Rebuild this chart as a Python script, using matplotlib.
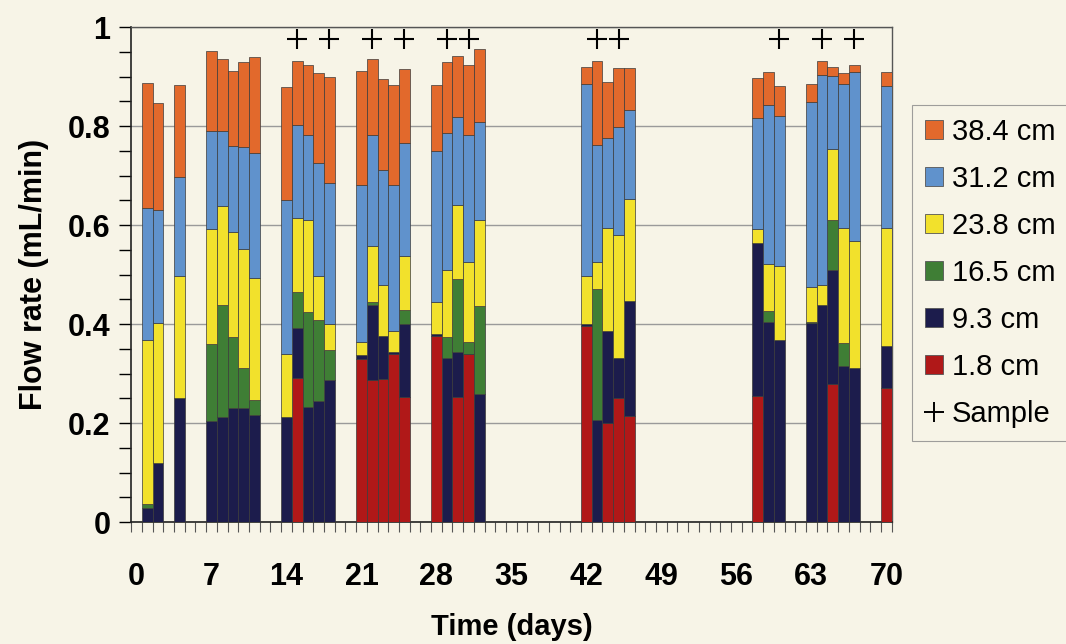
import matplotlib.pyplot as plt
import numpy as np
from matplotlib.patches import Patch
from matplotlib.lines import Line2D
from matplotlib.ticker import MultipleLocator, FuncFormatter

# sampling days and flow per port (mL/min), bottom port first
days = [1, 2, 4, 7, 8, 9, 10, 11, 14, 15, 16, 17, 18, 21, 22, 23, 24, 25,
        28, 29, 30, 31, 32, 42, 43, 44, 45, 46, 58, 59, 60, 63, 64, 65, 66, 67, 70]

flow_1_8 = [0, 0, 0, 0, 0, 0, 0, 0, 0, 0.291, 0, 0, 0, 0.330, 0.286, 0.289, 0.339, 0.253,
            0.376, 0, 0.253, 0.339, 0, 0.397, 0, 0.201, 0.250, 0.214, 0.255, 0, 0, 0, 0, 0.278, 0, 0, 0.270]
flow_9_3 = [0.029, 0.120, 0.250, 0.204, 0.213, 0.230, 0.230, 0.216, 0.213, 0.101, 0.233, 0.245, 0.287,
            0.008, 0.152, 0.086, 0.004, 0.147, 0.004, 0.331, 0.090, 0, 0.258, 0.004, 0.206, 0.184,
            0.082, 0.232, 0.308, 0.405, 0.368, 0.402, 0.438, 0.232, 0.316, 0.312, 0.086]
flow_16_5 = [0.008, 0, 0, 0.156, 0.225, 0.143, 0.081, 0.031, 0, 0.073, 0.191, 0.164, 0.061,
             0, 0.007, 0, 0, 0.029, 0, 0.042, 0.147, 0.025, 0.179, 0, 0.265, 0, 0, 0,
             0, 0.021, 0, 0.003, 0, 0.101, 0.045, 0, 0]
flow_23_8 = [0.330, 0.283, 0.247, 0.233, 0.201, 0.213, 0.240, 0.246, 0.126, 0.150, 0.186, 0.088, 0.052,
             0.025, 0.112, 0.103, 0.043, 0.108, 0.064, 0.136, 0.150, 0.162, 0.174, 0.096, 0.055, 0.210,
             0.247, 0.206, 0.028, 0.096, 0.150, 0.069, 0.040, 0.142, 0.234, 0.256, 0.239]
flow_31_2 = [0.267, 0.228, 0.200, 0.196, 0.150, 0.174, 0.206, 0.252, 0.312, 0.187, 0.172, 0.228, 0.284,
             0.318, 0.225, 0.233, 0.295, 0.229, 0.306, 0.277, 0.179, 0.256, 0.198, 0.388, 0.235, 0.180,
             0.220, 0.180, 0.225, 0.321, 0.302, 0.374, 0.426, 0.148, 0.289, 0.341, 0.285]
flow_38_4 = [0.253, 0.216, 0.186, 0.163, 0.147, 0.152, 0.172, 0.195, 0.228, 0.130, 0.142, 0.182, 0.215,
             0.231, 0.154, 0.184, 0.202, 0.150, 0.133, 0.143, 0.122, 0.142, 0.147, 0.035, 0.171, 0.114,
             0.118, 0.085, 0.081, 0.066, 0.060, 0.036, 0.028, 0.019, 0.023, 0.015, 0.029]

sample_days = [15, 18, 22, 25, 29, 31, 43, 45, 60, 64, 67]

labels = ['1.8 cm', '9.3 cm', '16.5 cm', '23.8 cm', '31.2 cm', '38.4 cm']
colors = ['#b01818', '#1c1c4c', '#3f7e35', '#f2e12c', '#6092cc', '#e2692c']
series = [flow_1_8, flow_9_3, flow_16_5, flow_23_8, flow_31_2, flow_38_4]

paper = '#f7f4e7'
sans = ['Liberation Sans', 'DejaVu Sans']
fig = plt.figure(figsize=(10.66, 6.44), dpi=100, facecolor=paper)
ax = fig.add_axes([0.123, 0.1894, 0.7135, 0.7686])
ax.set_facecolor(paper)

bottom = np.zeros(len(days))
for vals, col in zip(series, colors):
    ax.bar(days, vals, width=1.0, bottom=bottom, color=col,
           edgecolor='#3a3a3a', linewidth=0.5, zorder=3)
    bottom += np.array(vals)

ax.plot(sample_days, [0.975] * len(sample_days), linestyle='none', marker='+',
        markersize=15, markeredgewidth=1.5, color='black', zorder=4)

ax.set_xlim(-0.5, 70.5)
ax.set_ylim(0, 1)

ax.yaxis.set_major_locator(MultipleLocator(0.2))
ax.yaxis.set_minor_locator(MultipleLocator(0.05))
ax.yaxis.set_major_formatter(FuncFormatter(lambda v, p: '{:g}'.format(round(v, 2))))
ax.set_xticks(range(0, 71, 7))
ax.set_xticks(np.arange(-0.5, 70.6, 1), minor=True)

ax.tick_params(axis='y', which='both', direction='out', length=9, width=1, pad=6,
               labelsize=22)
ax.tick_params(axis='x', which='major', length=0, pad=29, labelsize=22)
ax.tick_params(axis='x', which='minor', direction='out', length=7, width=0.8, color='#555555')
for t in ax.get_yticklabels() + ax.get_xticklabels():
    t.set_fontfamily(sans)
    t.set_fontweight('bold')

ax.grid(axis='y', which='major', color='#9a9a9a', linewidth=1.0, zorder=0)
for side in ['top', 'right']:
    ax.spines[side].set_color('#555555')
    ax.spines[side].set_linewidth(1.0)
for side in ['left', 'bottom']:
    ax.spines[side].set_color('#222222')
    ax.spines[side].set_linewidth(1.2)

ax.set_ylabel('Flow rate (mL/min)', fontsize=22, fontweight='bold', family=sans, labelpad=13)
ax.set_xlabel('Time (days)', fontsize=21, fontweight='bold', family=sans, labelpad=15)

handles = [Patch(facecolor=c, edgecolor='#555555', linewidth=0.6, label=l)
           for c, l in zip(colors[::-1], labels[::-1])]
handles.append(Line2D([], [], linestyle='none', marker='+', markersize=15,
                      markeredgewidth=1.4, color='black', label='Sample'))
leg = fig.legend(handles=handles, loc='upper left', bbox_to_anchor=(0.8555, 0.837),
                 frameon=True, fancybox=False, facecolor=paper, edgecolor='#888888',
                 prop={'family': sans, 'size': 21},
                 handlelength=0.62, handleheight=0.62, handletextpad=0.3,
                 labelspacing=0.65, borderpad=0.45, borderaxespad=0)
leg.get_frame().set_linewidth(0.8)

fig.savefig('out.png', dpi=100, facecolor=paper)
